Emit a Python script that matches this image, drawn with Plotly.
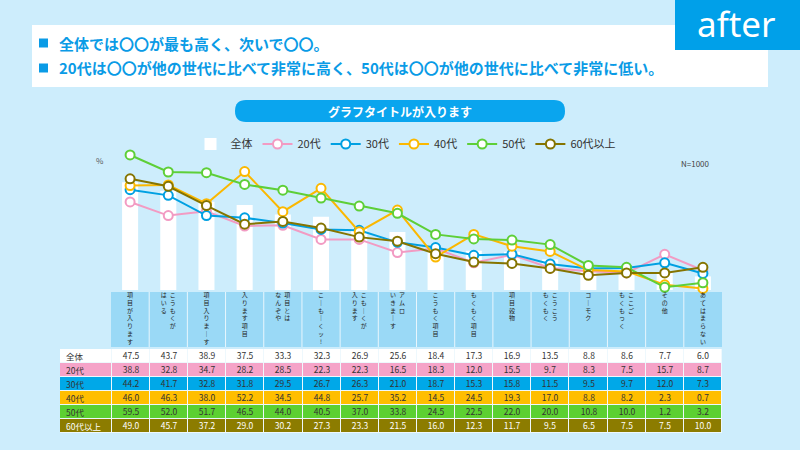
import plotly.graph_objects as go

# ---------------- data ----------------
categories = ["項目が入ります", "こうもくが\nはいる", "項目入りまーす", "入ります項目",
              "項目とは\nなんぞや", "こーもーくッ!", "こもーくが\n入ります", "アムロ\nいきまーす",
              "こうもく項目", "もくもく項目", "項目穀物", "こうこう\nもくもく",
              "コーモク", "ここご\nもくもっく", "その他", "あてはまらない"]
series_names = ["全体", "20代", "30代", "40代", "50代", "60代以上"]
v_all = [47.5, 43.7, 38.9, 37.5, 33.3, 32.3, 26.9, 25.6, 18.4, 17.3, 16.9, 13.5, 8.8, 8.6, 7.7, 6.0]
v_20 = [38.8, 32.8, 34.7, 28.2, 28.5, 22.3, 22.3, 16.5, 18.3, 12.0, 15.5, 9.7, 8.3, 7.5, 15.7, 8.7]
v_30 = [44.2, 41.7, 32.8, 31.8, 29.5, 26.7, 26.3, 21.0, 18.7, 15.3, 15.8, 11.5, 9.5, 9.7, 12.0, 7.3]
v_40 = [46.0, 46.3, 38.0, 52.2, 34.5, 44.8, 25.7, 35.2, 14.5, 24.5, 19.3, 17.0, 8.8, 8.2, 2.3, 0.7]
v_50 = [59.5, 52.0, 51.7, 46.5, 44.0, 40.5, 37.0, 33.8, 24.5, 22.5, 22.0, 20.0, 10.8, 10.0, 1.2, 3.2]
v_60 = [49.0, 45.7, 37.2, 29.0, 30.2, 27.3, 23.3, 21.5, 16.0, 12.3, 11.7, 9.5, 6.5, 7.5, 7.5, 10.0]
summary_lines = ["全体では〇〇が最も高く、次いで〇〇。",
                 "20代は〇〇が他の世代に比べて非常に高く、50代は〇〇が他の世代に比べて非常に低い。"]
chart_title = "グラフタイトルが入ります"
sample_note = "N=1000"
unit_label = "%"
badge_text = "after"

# ---------------- style ----------------
BG = "#cdedfc"
BLUE = "#0a9be6"
STRIP = "#9ad9f6"
line_colors = ["#f29bc3", "#00a0e2", "#fbb800", "#5ecf38", "#857400"]
row_fill = ["#ffffff", "#f5a3c8", "#00a8e8", "#ffbe00", "#5cd032", "#8c7c00"]
row_font = ["#333333", "#333333", "#333333", "#333333", "#333333", "#ffffff"]
JP = "Noto Sans CJK JP"
W, H = 800, 450


def px(x):
    return x / W


def py(y):
    return 1 - y / H


def vertical(label):
    cols = [c.replace("ー", "｜") for c in label.split("\n")]
    n = max(len(c) for c in cols)
    rows = []
    for i in range(n):
        chars = [c[i] if i < len(c) else "\u3000" for c in reversed(cols)]
        rows.append("\u2002".join(chars))
    return "<br>".join(rows)


cat_keys = [c.replace("\n", "") for c in categories]
age_values = [v_20, v_30, v_40, v_50, v_60]
all_rows = [v_all] + age_values
ncat = len(categories)
nrow = len(all_rows)

fig = go.Figure()

fig.add_trace(go.Bar(x=cat_keys, y=v_all, name=series_names[0],
                     marker=dict(color="#ffffff", line=dict(width=0)), width=0.42))
for name, vals, col in zip(series_names[1:], age_values, line_colors):
    fig.add_trace(go.Scatter(x=cat_keys, y=vals, name=name, mode="lines+markers",
                             line=dict(color=col, width=2),
                             marker=dict(symbol="circle", size=9, color="#ffffff", line=dict(color=col, width=2)),
                             cliponaxis=False))

# ---------------- data table as heatmap bricks ----------------
label_w = 52 / 38.2  # label column width in category units
x_edges = [-0.5 - label_w] + [i + 0.5 for i in range(-1, ncat)]
colorscale = [[k / (nrow - 1), c] for k, c in enumerate(row_fill)]


def table_block(rows_idx, font_color):
    z = [[k] * (ncat + 1) for k in rows_idx]
    text = [[""] + [f"{v:.1f}" for v in all_rows[k]] for k in rows_idx]
    return go.Heatmap(x=x_edges, y=[rows_idx[0] - 0.5 + i for i in range(len(rows_idx) + 1)],
                      z=z, text=text, texttemplate="%{text}", zmin=0, zmax=nrow - 1,
                      colorscale=colorscale, showscale=False, xgap=1, ygap=1, hoverinfo="skip",
                      textfont=dict(family=JP, size=8.5, color=font_color),
                      xaxis="x2", yaxis="y2", showlegend=False)


fig.add_trace(table_block([0, 1, 2, 3, 4], "#333333"))
fig.add_trace(table_block([5], "#ffffff"))

shapes = []
# summary box
shapes.append(dict(type="rect", xref="paper", yref="paper", x0=px(32), x1=px(768), y0=py(87), y1=py(25),
                   fillcolor="#ffffff", line=dict(width=0), layer="below"))
# white grid beneath table
shapes.append(dict(type="rect", xref="x2", yref="y2", x0=x_edges[0], x1=x_edges[-1], y0=-0.5, y1=nrow - 0.5,
                   fillcolor="#eef8fd", line=dict(width=0), layer="below"))
# after badge
shapes.append(dict(type="rect", xref="paper", yref="paper", x0=px(675), x1=px(800), y0=py(50), y1=py(0),
                   fillcolor="#00a0e9", line=dict(width=0)))
# bullets
for yc in (43, 68):
    shapes.append(dict(type="rect", xref="paper", yref="paper", x0=px(39), x1=px(48), y0=py(yc + 4.5),
                       y1=py(yc - 4.5), fillcolor=BLUE, line=dict(width=0)))
# category label strip + separators
shapes.append(dict(type="rect", xref="x", yref="paper", x0=-0.5, x1=ncat - 0.5, y0=py(347), y1=py(292),
                   fillcolor=STRIP, line=dict(width=0), layer="below"))
for i in range(ncat - 1):
    shapes.append(dict(type="line", xref="x", yref="paper", x0=i + 0.5, x1=i + 0.5, y0=py(347), y1=py(292),
                       line=dict(color="#e8f6fd", width=1), layer="below"))
# pill title
x0, x1, y0, y1, r = 235, 565, 100, 122, 11


def P(x, y):
    return f"{px(x):.5f},{py(y):.5f}"


path = (f"M {P(x0 + r, y0)} L {P(x1 - r, y0)} Q {P(x1, y0)} {P(x1, y0 + r)} Q {P(x1, y1)} {P(x1 - r, y1)} "
        f"L {P(x0 + r, y1)} Q {P(x0, y1)} {P(x0, y0 + r)} Q {P(x0, y0)} {P(x0 + r, y0)} Z")
shapes.append(dict(type="path", xref="paper", yref="paper", path=path, fillcolor="#0aa5ee", line=dict(width=0)))

annotations = [
    dict(text=f"<b>{summary_lines[0]}</b>", x=px(57), y=py(43), xref="paper", yref="paper", xanchor="left",
         yanchor="middle", showarrow=False, font=dict(family=JP, size=15, color=BLUE)),
    dict(text=f"<b>{summary_lines[1]}</b>", x=px(57), y=py(68), xref="paper", yref="paper", xanchor="left",
         yanchor="middle", showarrow=False, font=dict(family=JP, size=15, color=BLUE)),
    dict(text=badge_text, x=px(736), y=py(23), xref="paper", yref="paper", xanchor="center", yanchor="middle",
         showarrow=False, font=dict(family="Noto Sans", size=35, color="#ffffff")),
    dict(text=f"<b>{chart_title}</b>", x=px(400), y=py(111), xref="paper", yref="paper", xanchor="center",
         yanchor="middle", showarrow=False, font=dict(family=JP, size=12, color="#ffffff")),
    dict(text=unit_label, x=px(100), y=py(160), xref="paper", yref="paper", xanchor="center", yanchor="middle",
         showarrow=False, font=dict(family=JP, size=8, color="#555555")),
    dict(text=sample_note, x=px(712), y=py(163), xref="paper", yref="paper", xanchor="right", yanchor="middle",
         showarrow=False, font=dict(family=JP, size=8, color="#444444")),
]
# row labels of the table
for k, name in enumerate(series_names):
    annotations.append(dict(text=name, x=x_edges[0] + 0.1, y=k, xref="x2", yref="y2", xanchor="left",
                            yanchor="middle", showarrow=False,
                            font=dict(family=JP, size=8.5, color=row_font[k])))

fig.update_layout(
    width=W, height=H, autosize=False,
    margin=dict(l=0, r=0, t=0, b=0),
    paper_bgcolor=BG, plot_bgcolor="rgba(0,0,0,0)",
    showlegend=True,
    legend=dict(orientation="h", x=px(406), xanchor="center", y=py(144), yanchor="middle",
                font=dict(family=JP, size=11, color="#333333"), bgcolor="rgba(0,0,0,0)",
                itemwidth=30, tracegroupgap=0, traceorder="normal"),
    xaxis=dict(domain=[px(111), px(722)], range=[-0.5, ncat - 0.5],
               tickmode="array", tickvals=cat_keys, ticktext=[vertical(c) for c in categories],
               tickfont=dict(family=JP, size=6, color="#222222"), tickangle=0,
               showgrid=False, zeroline=False, showline=False, ticks="", fixedrange=True),
    yaxis=dict(domain=[py(290), py(149.3)], range=[0, 62], visible=False, fixedrange=True),
    xaxis2=dict(domain=[px(60), px(722)], range=[x_edges[0], x_edges[-1]], anchor="y2", visible=False,
                fixedrange=True),
    yaxis2=dict(domain=[py(433), py(349)], range=[nrow - 0.5, -0.5], anchor="x2", visible=False,
                fixedrange=True),
    shapes=shapes, annotations=annotations,
    bargap=0.58,
)

fig.write_html("out.html", config={"displayModeBar": False},
               post_script="document.body.style.margin='0px';document.body.style.overflow='hidden';")
